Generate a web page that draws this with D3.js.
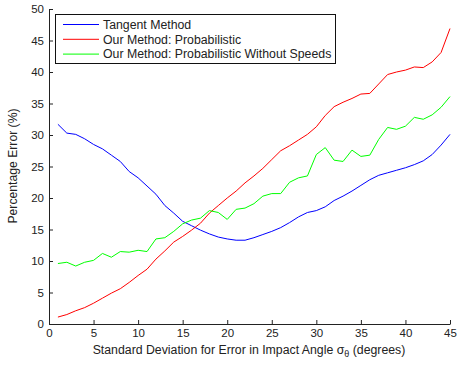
<!DOCTYPE html>
<html><head><meta charset="utf-8">
<script src="https://cdn.jsdelivr.net/npm/d3@7"></script>
<style>
body{margin:0;background:#fff;}
svg{display:block;font-family:"Liberation Sans",Arial,sans-serif;}
</style></head><body>
<svg id="c" width="457" height="365"></svg>
<script>
const xs = d3.range(1, 46);
const tangent = [31.7,30.3,30.1,29.4,28.5,27.8,26.8,25.8,24.2,23.2,21.9,20.6,18.8,17.6,16.3,15.6,14.9,14.3,13.8,13.5,13.3,13.3,13.7,14.2,14.7,15.3,16.1,17.0,17.7,18.0,18.6,19.6,20.3,21.1,22.0,22.9,23.6,24.0,24.4,24.8,25.3,25.9,26.9,28.4,30.1];
const probabilistic = [1.1,1.5,2.1,2.6,3.3,4.1,4.9,5.6,6.6,7.7,8.7,10.3,11.6,13.0,13.9,14.9,16.0,17.6,18.8,20.0,21.1,22.4,23.5,24.7,26.1,27.5,28.3,29.2,30.1,31.3,33.1,34.5,35.2,35.8,36.5,36.6,38.1,39.6,40.0,40.3,40.8,40.7,41.6,43.1,46.9];
const noSpeeds = [9.6,9.8,9.2,9.8,10.1,11.2,10.6,11.5,11.4,11.7,11.5,13.5,13.7,14.7,15.9,16.5,16.8,18.0,17.7,16.6,18.2,18.4,19.1,20.3,20.7,20.7,22.5,23.2,23.5,26.9,28.0,26.0,25.8,27.6,26.6,26.8,29.3,31.2,30.9,31.4,32.8,32.5,33.2,34.4,36.1];
const seriesNames = ["Tangent Method","Our Method: Probabilistic","Our Method: Probabilistic Without Speeds"];
const seriesColors = ["#0000ff","#ff0000","#00ff00"];
const xTicks = [0,5,10,15,20,25,30,35,40,45];
const yTicks = [0,5,10,15,20,25,30,35,40,45,50];

const svg = d3.select("#c");
const x = d3.scaleLinear().domain([0,45]).range([49,450]);
const y = d3.scaleLinear().domain([0,50]).range([324,9]);

const gx = svg.append("g").attr("transform","translate(0,324)")
  .call(d3.axisBottom(x).tickValues(xTicks).tickSizeInner(-4).tickSizeOuter(0).tickPadding(5));
const gy = svg.append("g").attr("transform","translate(49,0)")
  .call(d3.axisLeft(y).tickValues(yTicks).tickSizeInner(-4).tickSizeOuter(0).tickPadding(5));
[gx,gy].forEach(g=>{
  g.selectAll("path.domain").attr("stroke","#222").attr("stroke-width",1);
  g.selectAll(".tick line").attr("stroke","#222");
  g.selectAll("text").attr("font-size","11.5px").attr("fill","#222").attr("font-family","'Liberation Sans',Arial,sans-serif");
});

const data = [tangent, probabilistic, noSpeeds];
const line = d3.line().x((d,i)=>x(xs[i])).y(d=>y(d));
data.forEach((s,k)=>{
  svg.append("path").datum(s).attr("d",line).attr("fill","none")
    .attr("stroke",seriesColors[k]).attr("stroke-width",1);
});

// legend
const lg = svg.append("g");
lg.append("rect").attr("x",55.5).attr("y",14.5).attr("width",280).attr("height",49)
  .attr("fill","#fff").attr("stroke","#111").attr("stroke-width",1);
seriesNames.forEach((n,k)=>{
  const yy = 24.5 + k*14.8;
  lg.append("line").attr("x1",63).attr("x2",99).attr("y1",yy).attr("y2",yy)
    .attr("stroke",seriesColors[k]).attr("stroke-width",1);
  lg.append("text").attr("x",103).attr("y",yy+4.3).attr("font-size","12.3px").attr("fill","#222").text(n);
});

// axis labels
svg.append("text").attr("transform","translate(17,166) rotate(-90)").attr("text-anchor","middle")
  .attr("font-size","12.2px").attr("fill","#222").text("Percentage Error (%)");
const xl = svg.append("text").attr("x",249).attr("y",354).attr("text-anchor","middle")
  .attr("font-size","12.3px").attr("fill","#222");
xl.append("tspan").text("Standard Deviation for Error in Impact Angle \u03c3");
xl.append("tspan").attr("dy",3).attr("font-size","9px").text("\u03b8");
xl.append("tspan").attr("dy",-3).text(" (degrees)");
</script>
</body></html>
